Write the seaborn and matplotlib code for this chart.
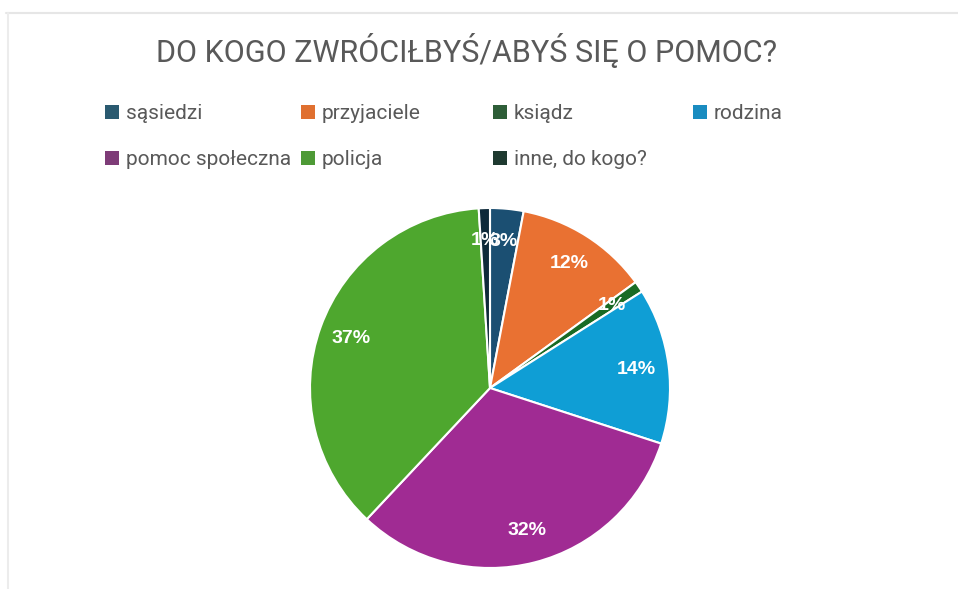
import matplotlib
matplotlib.use("Agg")
import matplotlib.pyplot as plt
import seaborn as sns
from matplotlib.patches import Patch
from matplotlib.lines import Line2D

TITLE = "DO KOGO ZWRÓCIŁBYŚ/ABYŚ SIĘ O POMOC?"
categories = ["sąsiedzi", "przyjaciele", "ksiądz", "rodzina",
              "pomoc społeczna", "policja", "inne, do kogo?"]
values = [3, 12, 1, 14, 32, 37, 1]
pie_colors = ["#1b4f72", "#e97132", "#196b24", "#0f9ed5",
              "#a02b93", "#4ea72e", "#0e2a3a"]
legend_colors = ["#2a5a70", "#e07030", "#2e5e38", "#1a8cc0",
                 "#7e3c78", "#4e9a36", "#1e3a30"]

W, H = 958, 589
sns.set_theme(style="white")
plt.rcParams["font.family"] = ["Roboto", "DejaVu Sans"]

fig = plt.figure(figsize=(W / 100, H / 100), dpi=100)
fig.patch.set_facecolor("white")

# faint frame lines like the screenshot
fig.add_artist(Line2D([6 / W, 1], [1 - 13 / H, 1 - 13 / H], color="#e6e6e6", lw=1.5))
fig.add_artist(Line2D([8 / W, 8 / W], [0, 1 - 13 / H], color="#ececec", lw=1.5))

# pie axes: center (490, 388), radius 180 px
cx, cy, r = 490, 388, 180
ax = fig.add_axes([(cx - r) / W, (H - cy - r) / H, 2 * r / W, 2 * r / H])
wedges, texts, autotexts = ax.pie(
    values, colors=pie_colors, startangle=90, counterclock=False,
    autopct=lambda p: f"{p:.0f}%", pctdistance=0.82,
    wedgeprops=dict(edgecolor="white", linewidth=1.5),
    textprops=dict(color="white", fontsize=14, weight="bold",
                   family=["Liberation Sans", "DejaVu Sans"]),
)
ax.set_xlim(-1, 1)
ax.set_ylim(-1, 1)
ax.set_aspect("equal")

fig.text(467 / W, 1 - 50 / H, TITLE, ha="center", va="center",
         fontsize=22, color="#595959")

# legend laid out in four columns like the original
col_x = [105, 301, 493, 693]
cols = [[0, 4], [1, 5], [2, 6], [3]]
for x, idx in zip(col_x, cols):
    handles = [Patch(facecolor=legend_colors[i], edgecolor="none") for i in idx]
    fig.legend(handles, [categories[i] for i in idx],
               loc="upper left", bbox_to_anchor=(x / W, 1 - 104 / H),
               frameon=False, fontsize=15, labelcolor="#595959",
               handlelength=0.65, handleheight=0.65, handletextpad=0.35,
               labelspacing=1.3, borderaxespad=0, borderpad=0)

fig.savefig("out.png", dpi=100, facecolor="white")
